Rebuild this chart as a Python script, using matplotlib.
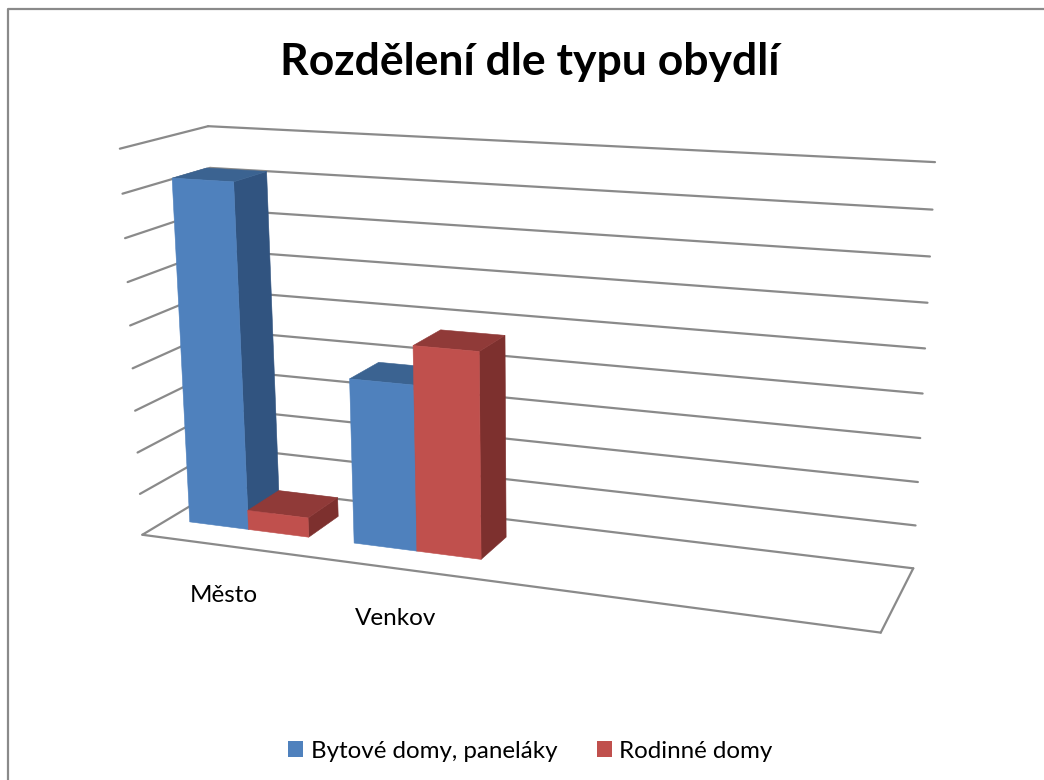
import numpy as np
import matplotlib
matplotlib.use('Agg')
import matplotlib.pyplot as plt
from matplotlib.patches import Patch

plt.rcParams['font.family'] = ['Lato', 'DejaVu Sans']

# Data
categories = ['Město', 'Venkov']
series_names = ['Bytové domy, paneláky', 'Rodinné domy']
bytove = [8.2, 3.9]
rodinne = [0.47, 4.8]

# Axis sizes, 4 category slots and 9 grid steps
N_SLOTS = 4
N_STEPS = 9
GAP = 0.27
DEPTH_FRONT = 0.3
DEPTH_BACK = 0.7

BLUE = ('#4f81bd', '#3b6391', '#315480')
RED = ('#c0504d', '#903a38', '#7d302e')
GRID = '#8a8a8a'

# Box corners (slot, depth, value) and where they land on the picture
box_corners = [(0, 0, 0), (0, 1, 0), (N_SLOTS, 1, 0), (N_SLOTS, 0, 0),
               (0, 0, N_STEPS), (0, 1, N_STEPS), (N_SLOTS, 1, N_STEPS)]
box_pixels = [(142, 535), (225, 485), (913, 569), (881, 632),
              (120, 149), (208, 126), (935, 162)]


def fit_camera(points, pixels):
    """
    Fits the 3x4 perspective matrix of the chart box.
    """
    rows = []
    for (x, d, z), (u, v) in zip(points, pixels):
        rows.append([x, d, z, 1, 0, 0, 0, 0, -u * x, -u * d, -u * z, -u])
        rows.append([0, 0, 0, 0, x, d, z, 1, -v * x, -v * d, -v * z, -v])
    return np.linalg.svd(np.array(rows, float))[2][-1].reshape(3, 4)


camera = fit_camera(box_corners, box_pixels)


def project(x, d, z):
    u, v, w = camera @ np.array([x, d, z, 1.0])
    return u / w, v / w


def draw_line(ax, a, b):
    p, q = project(*a), project(*b)
    ax.plot([p[0], q[0]], [p[1], q[1]], color=GRID, lw=1.6, solid_capstyle='round', zorder=1)


def draw_bar(ax, left, width, value, colors):
    right = left + width
    front = [project(left, DEPTH_FRONT, 0), project(right, DEPTH_FRONT, 0),
             project(right, DEPTH_FRONT, value), project(left, DEPTH_FRONT, value)]
    top = [project(left, DEPTH_FRONT, value), project(right, DEPTH_FRONT, value),
           project(right, DEPTH_BACK, value), project(left, DEPTH_BACK, value)]
    side = [project(right, DEPTH_FRONT, 0), project(right, DEPTH_BACK, 0),
            project(right, DEPTH_BACK, value), project(right, DEPTH_FRONT, value)]
    # Thin edge in the face colour hides the seams between faces
    ax.fill(*zip(*side), color=colors[2], lw=0.4, zorder=2)
    ax.fill(*zip(*top), color=colors[1], lw=0.4, zorder=2)
    ax.fill(*zip(*front), color=colors[0], lw=0.4, zorder=2)


def main():
    fig = plt.figure(figsize=(10.44, 7.8), dpi=100)
    ax = fig.add_axes([0, 0, 1, 1])
    ax.set_xlim(0, 1044)
    ax.set_ylim(780, 0)
    ax.axis('off')

    # Chart frame, only left and top show in the crop
    ax.plot([8, 8, 1044], [780, 9, 9], color=GRID, lw=1.6, zorder=1)

    ax.text(530, 62, 'Rozdělení dle typu obydlí', fontsize=32, fontweight='bold',
            ha='center', va='center', color='black')

    # Walls and floor
    for z in range(N_STEPS + 1):
        draw_line(ax, (0, 0, z), (0, 1, z))
        draw_line(ax, (0, 1, z), (N_SLOTS, 1, z))
    draw_line(ax, (0, 0, 0), (N_SLOTS, 0, 0))
    draw_line(ax, (N_SLOTS, 0, 0), (N_SLOTS, 1, 0))

    bar_width = (1 - GAP) / 2
    for i, name in enumerate(categories):
        left = i + GAP / 2
        draw_bar(ax, left, bar_width, bytove[i], BLUE)
        draw_bar(ax, left + bar_width, bar_width, rodinne[i], RED)
        ax.annotate(name, project(i + 0.5, 0, 0), xytext=(0, -50), textcoords='offset pixels',
                    ha='center', va='center', fontsize=17.5, color='black')

    handles = [Patch(color=BLUE[0], lw=0), Patch(color=RED[0], lw=0)]
    ax.legend(handles, series_names, loc='center', bbox_to_anchor=(530.5, 751),
              bbox_transform=ax.transData, ncol=2, frameon=False, fontsize=17.4,
              handlelength=0.62, handleheight=0.62, handletextpad=0.3,
              columnspacing=1.65, borderpad=0, borderaxespad=0)

    fig.savefig('out.png', dpi=100)


if __name__ == "__main__":
    main()
